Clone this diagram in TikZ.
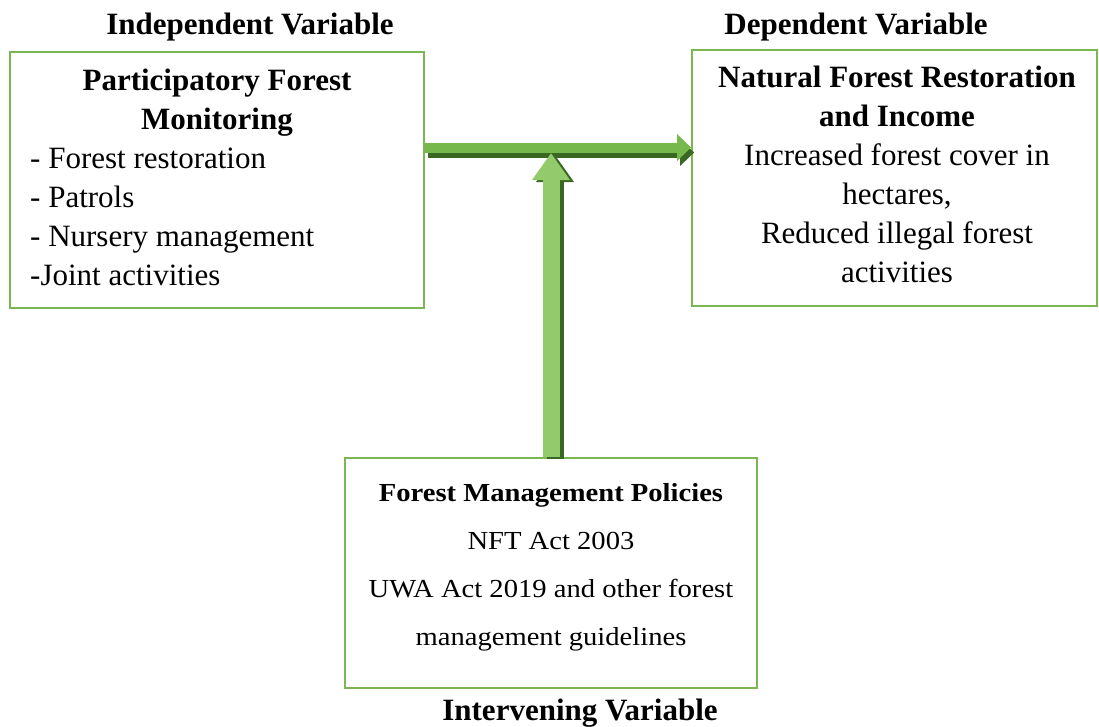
\documentclass[tikz,border=0pt]{standalone}
\usepackage{fontspec}
\setmainfont{Liberation Serif}
\newfontfamily\widefont[FakeStretch=1.1]{Liberation Serif}
\usetikzlibrary{arrows.meta}
\definecolor{boxgreen}{RGB}{122,182,82}
\definecolor{arrowgreen}{RGB}{118,184,76}
\definecolor{arrowlight}{RGB}{146,202,108}
\definecolor{shadowgreen}{RGB}{58,104,36}
\begin{document}
\begin{tikzpicture}[x=1pt, y=-1pt,
        box/.style={draw=boxgreen, line width=1.8pt, inner sep=0pt},
        txt/.style={font=\fontsize{31}{39}\selectfont, inner sep=0pt, align=center},
        head/.style={font=\fontsize{31}{39}\selectfont\bfseries, inner sep=0pt}]
        \useasboundingbox (0,0) rectangle (1099,726);
        % boxes
        \node[box, minimum width=414pt, minimum height=256pt] (pfm) at (217,180) {};
        \node[box, minimum width=405pt, minimum height=256pt] (nfr) at (894.5,178) {};
        \node[box, minimum width=412pt, minimum height=230pt] (fmp) at (551,573) {};
        % texts
        \node[head, align=center] (pfmtitle) at (217,103) {Participatory Forest\\Monitoring};
        \node[txt, align=left, anchor=west] (pfmlist) at (30,216.5) {- Forest restoration\\- Patrols\\- Nursery management\\-Joint activities};
        \node[txt] (nfrtext) at (897,174) {\textbf{Natural Forest Restoration}\\\textbf{and Income}\\Increased forest cover in\\hectares,\\Reduced illegal forest\\activities};
        \node[txt, font=\widefont\fontsize{26}{48}\selectfont] (fmptext) at (551,567) {\textbf{Forest Management Policies}\\NFT Act 2003\\UWA Act 2019 and other forest\\management guidelines};
        \node[head] (indep) at (250,27) {Independent Variable};
        \node[head] (dep) at (856,27) {Dependent Variable};
        \node[head] (interv) at (580,713) {Intervening Variable};
        % arrows
        \coordinate (hline) at (0,147.5);
        \coordinate (tjoin) at (551,153);
        \draw[shadowgreen, line width=10pt, -{Triangle[length=14pt,width=26pt]}, transform canvas={shift={(3pt,-5pt)}}] (pfm.east |- hline) -- (nfr.west |- hline);
        \draw[arrowgreen, line width=10pt, -{Triangle[length=14pt,width=26pt]}] (pfm.east |- hline) -- (nfr.west |- hline);
        \draw[shadowgreen, line width=17pt, -{Triangle[length=27pt,width=36pt]}, transform canvas={shift={(4pt,-2pt)}}] (fmp.north) -- (tjoin);
        \draw[arrowlight, line width=17pt, -{Triangle[length=27pt,width=36pt]}] (fmp.north) -- (tjoin);
    \end{tikzpicture}
\end{document}
